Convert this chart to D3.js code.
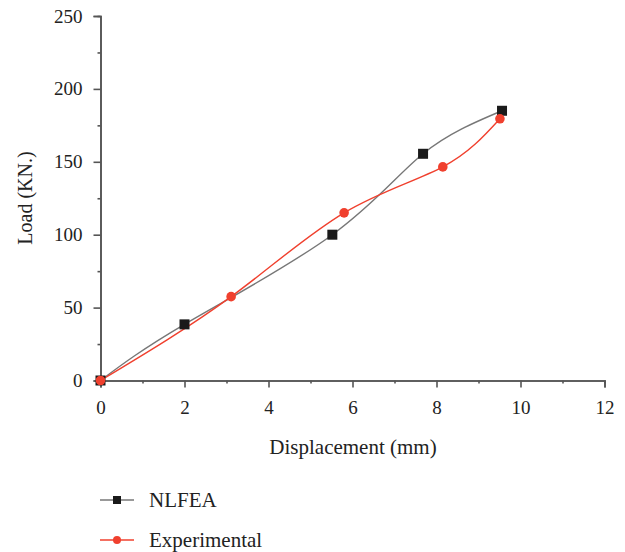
<!DOCTYPE html>
<html>
<head>
<meta charset="utf-8">
<script src="https://cdn.jsdelivr.net/npm/d3@7"></script>
<style>
  body { margin: 0; background: #fff; }
  text { font-family: "Liberation Serif", "DejaVu Serif", serif; fill: #222; }
</style>
</head>
<body>
<div id="graph"></div>
<script>
// values
var nlfeaX = [0, 2.0, 5.52, 7.68, 9.56]
var nlfeaY = [0, 38.5, 100, 155.5, 185]
var expX = [0, 3.11, 5.8, 8.15, 9.51]
var expY = [0, 57.5, 115, 146.5, 179.5]
var xTicks = [0, 2, 4, 6, 8, 10, 12]
var yTicks = [0, 50, 100, 150, 200, 250]
var names = ['NLFEA', 'Experimental']

var series = [
  {name: names[0], xs: nlfeaX, ys: nlfeaY, line: '#777', mark: '#1a1a1a', shape: 'square'},
  {name: names[1], xs: expX, ys: expY, line: '#f0402e', mark: '#f0402e', shape: 'circle'}
]

var svg = d3.select('#graph').append('svg')
  .attr('width', 625).attr('height', 552)

var x = d3.scaleLinear().domain([0, 12]).range([100.5, 604.5])
var y = d3.scaleLinear().domain([0, 250]).range([380.5, 16])

var axisColor = '#555'

var gx = svg.append('g').attr('transform', 'translate(0,' + y(0) + ')')
gx.call(d3.axisBottom(x).tickValues(d3.range(1, 12, 2)).tickSize(3).tickFormat(''))
gx.append('g').call(d3.axisBottom(x).tickValues(xTicks).tickSize(7).tickPadding(13).tickFormat(d3.format('d')))
gx.selectAll('path.domain, line').attr('stroke', axisColor).attr('stroke-width', 1.6)
gx.selectAll('text').style('font-size', '19px').attr('fill', '#222')

var gy = svg.append('g').attr('transform', 'translate(' + x(0) + ',0)')
gy.call(d3.axisLeft(y).tickValues(d3.range(25, 250, 50)).tickSize(3).tickFormat(''))
gy.append('g').call(d3.axisLeft(y).tickValues(yTicks).tickSize(7).tickPadding(11).tickFormat(d3.format('d')))
gy.selectAll('path.domain, line').attr('stroke', axisColor).attr('stroke-width', 1.6)
gy.selectAll('text').style('font-size', '19px').attr('fill', '#222')

svg.append('text')
  .attr('x', 353).attr('y', 454)
  .attr('text-anchor', 'middle').style('font-size', '21px')
  .text('Displacement (mm)')

svg.append('text')
  .attr('transform', 'translate(32,198) rotate(-90)')
  .attr('text-anchor', 'middle').style('font-size', '20px')
  .text('Load (KN.)')

var line = d3.line()
  .x((d, i) => x(d))
  .curve(d3.curveNatural)

series.forEach(s => {
  svg.append('path')
    .attr('d', line.y((d, i) => y(s.ys[i]))(s.xs))
    .attr('fill', 'none').attr('stroke', s.line).attr('stroke-width', 1.4)
})

series.forEach(s => {
  var g = svg.append('g')
  s.xs.forEach((d, i) => {
    var cx = x(d), cy = y(s.ys[i])
    if (s.shape === 'square') {
      g.append('rect').attr('x', cx - 5).attr('y', cy - 5).attr('width', 10).attr('height', 10).attr('fill', s.mark)
    } else {
      g.append('circle').attr('cx', cx).attr('cy', cy).attr('r', 4.8).attr('fill', s.mark)
    }
  })
})

// legend
var legend = svg.append('g')
series.forEach((s, i) => {
  var ly = 500 + i * 40
  legend.append('line')
    .attr('x1', 100).attr('x2', 134).attr('y1', ly).attr('y2', ly)
    .attr('stroke', s.line).attr('stroke-width', 1.6)
  if (s.shape === 'square') {
    legend.append('rect').attr('x', 113).attr('y', ly - 4).attr('width', 8).attr('height', 8).attr('fill', s.mark)
  } else {
    legend.append('circle').attr('cx', 117).attr('cy', ly).attr('r', 4).attr('fill', s.mark)
  }
  legend.append('text')
    .attr('x', 149).attr('y', ly + 7)
    .style('font-size', '21px')
    .text(s.name)
})
</script>
</body>
</html>
